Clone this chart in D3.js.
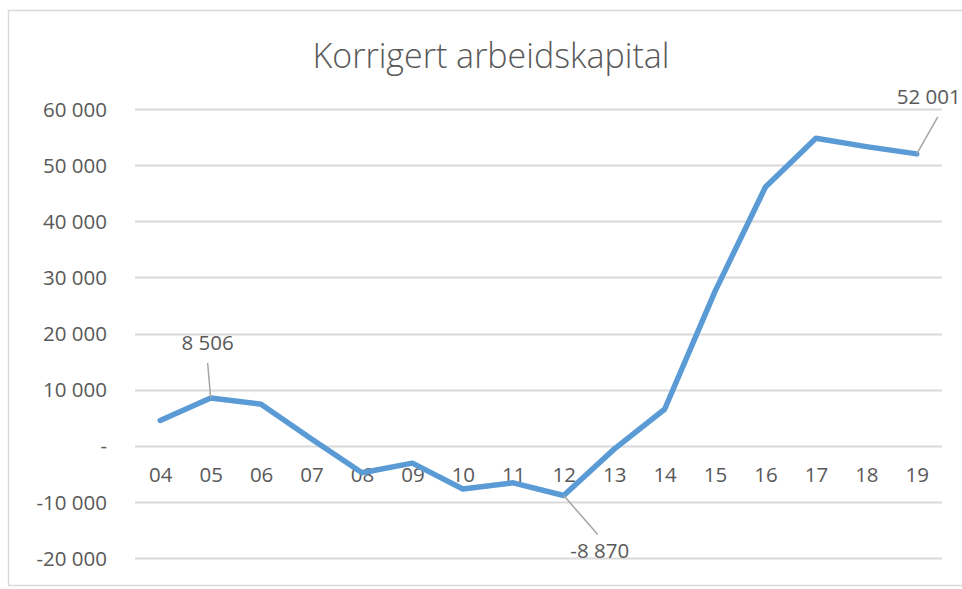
<!DOCTYPE html>
<html>
<head>
<meta charset="utf-8">
<script src="https://cdn.jsdelivr.net/npm/d3@7"></script>
<style>
  body { margin: 0; background: #fff; }
  text { font-family: "Open Sans", "Noto Sans", sans-serif; fill: #595959; }
</style>
</head>
<body>
<div id="chart"></div>
<script>
// chart data
const years = ["04", "05", "06", "07", "08", "09", "10", "11", "12", "13", "14", "15", "16", "17", "18", "19"];
const values = [4500, 8506, 7400, 1200, -4800, -3100, -7700, -6600, -8870, -600, 6500, 27500, 46100, 54800, 53300, 52001];
const yTicks = [-20000, -10000, 0, 10000, 20000, 30000, 40000, 50000, 60000];
// labelled points: index + offset of the label from the point
const callouts = [
  { i: 1, dx: -3, dy: -55 },
  { i: 8, dx: 36, dy: 55 },
  { i: 15, dx: 12, dy: -57 }
];

const width = 962;
const height = 589;
const margin = { top: 109, right: 20, bottom: 31, left: 135 };

const svg = d3.select("#chart")
  .append("svg")
  .attr("width", width)
  .attr("height", height);

// chart border (runs off the right edge like the screenshot)
svg.append("rect")
  .attr("x", 8.5)
  .attr("y", 10.5)
  .attr("width", 980)
  .attr("height", 575)
  .attr("fill", "#fff")
  .attr("stroke", "#d9d9d9")
  .attr("stroke-width", 1.5);

const x = d3.scalePoint()
  .domain(years)
  .range([margin.left, 942])
  .padding(0.5);

const y = d3.scaleLinear()
  .domain([-20000, 60000])
  .range([height - margin.bottom, margin.top]);

const nb = d3.formatLocale({ decimal: ",", thousands: " ", grouping: [3], currency: ["", " kr"], minus: "-" });
const fmt = nb.format(",d");
const tickFmt = d => d === 0 ? "-" : fmt(d);

// gridlines
svg.append("g")
  .selectAll("line")
  .data(yTicks)
  .enter()
  .append("line")
  .attr("x1", margin.left)
  .attr("x2", 942)
  .attr("y1", d => Math.round(y(d)) + 0.5)
  .attr("y2", d => Math.round(y(d)) + 0.5)
  .attr("stroke", "#d9d9d9")
  .attr("stroke-width", 2);

// y axis labels
const yAxis = svg.append("g")
  .attr("transform", `translate(${margin.left - 28},0)`)
  .call(d3.axisLeft(y).tickValues(yTicks).tickFormat(tickFmt).tickSize(0).tickPadding(0));
yAxis.select(".domain").remove();
yAxis.selectAll("text")
  .attr("fill", "#595959")
  .style("font-size", "20.5px")
  .attr("dy", "0.35em");

// x axis labels sit just below the zero line
const xAxis = svg.append("g")
  .attr("transform", `translate(0,${y(0) + 22})`)
  .call(d3.axisBottom(x).tickSize(0).tickPadding(0));
xAxis.select(".domain").remove();
xAxis.selectAll("text")
  .attr("fill", "#595959")
  .style("font-size", "20.5px");

// the line
const line = d3.line()
  .x((d, i) => x(years[i]))
  .y(d => y(d));

svg.append("path")
  .datum(values)
  .attr("d", line)
  .attr("fill", "none")
  .attr("stroke", "#5b9bd5")
  .attr("stroke-width", 5.5)
  .attr("stroke-linejoin", "round")
  .attr("stroke-linecap", "round");

// data labels with leader lines
callouts.forEach(c => {
  const px = x(years[c.i]);
  const py = y(values[c.i]);
  const lx = px + c.dx;
  const ly = py + c.dy;
  const endY = c.dy < 0 ? ly + 20 : ly - 16;
  svg.append("line")
    .attr("x1", px)
    .attr("y1", py)
    .attr("x2", lx - (c.dy > 0 ? 2 : (c.i === 15 ? -9 : 0)))
    .attr("y2", endY)
    .attr("stroke", "#a6a6a6")
    .attr("stroke-width", 1.5);
  svg.append("text")
    .attr("x", lx)
    .attr("y", ly)
    .attr("dy", "0.35em")
    .attr("text-anchor", "middle")
    .style("font-size", "20.5px")
    .text(fmt(values[c.i]));
});

// title
svg.append("text")
  .attr("x", 491)
  .attr("y", 68)
  .attr("text-anchor", "middle")
  .style("font-size", "34px")
  .style("font-weight", 300)
  .text("Korrigert arbeidskapital");
</script>
</body>
</html>
